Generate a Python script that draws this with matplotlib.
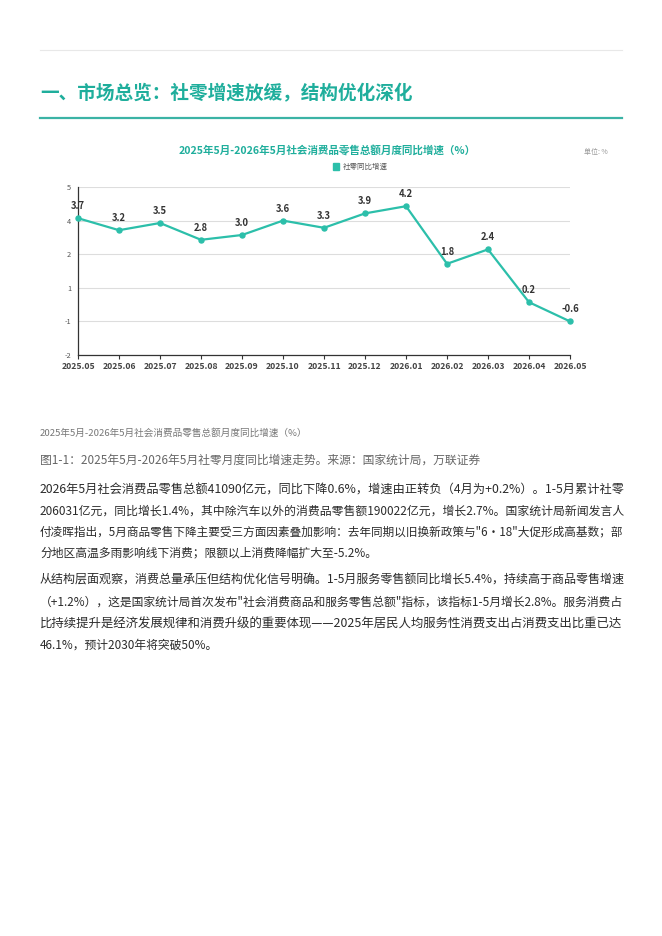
import matplotlib
matplotlib.use("Agg")
import matplotlib.pyplot as plt
from matplotlib.patches import Patch
from matplotlib.lines import Line2D
import numpy as np

plt.rcParams['font.family'] = ['Noto Sans CJK SC', 'DejaVu Sans']

# ---- data ----
months = ["2025.05", "2025.06", "2025.07", "2025.08", "2025.09", "2025.10", "2025.11",
          "2025.12", "2026.01", "2026.02", "2026.03", "2026.04", "2026.05"]
growth = [3.7, 3.2, 3.5, 2.8, 3.0, 3.6, 3.3, 3.9, 4.2, 1.8, 2.4, 0.2, -0.6]

heading = "一、市场总览：社零增速放缓，结构优化深化"
chart_title = "2025年5月-2026年5月社会消费品零售总额月度同比增速（%）"
series_name = "社零同比增速"
unit_text = "单位: %"
sub_caption = "2025年5月-2026年5月社会消费品零售总额月度同比增速（%）"
fig_caption = "图1-1：2025年5月-2026年5月社零月度同比增速走势。来源：国家统计局，万联证券"
para1 = ["2026年5月社会消费品零售总额41090亿元，同比下降0.6%，增速由正转负（4月为+0.2%）。1-5月累计社零",
         "206031亿元，同比增长1.4%，其中除汽车以外的消费品零售额190022亿元，增长2.7%。国家统计局新闻发言人",
         "付凌晖指出，5月商品零售下降主要受三方面因素叠加影响：去年同期以旧换新政策与\"6·18\"大促形成高基数；部",
         "分地区高温多雨影响线下消费；限额以上消费降幅扩大至-5.2%。"]
para2 = ["从结构层面观察，消费总量承压但结构优化信号明确。1-5月服务零售额同比增长5.4%，持续高于商品零售增速",
         "（+1.2%），这是国家统计局首次发布\"社会消费商品和服务零售总额\"指标，该指标1-5月增长2.8%。服务消费占",
         "比持续提升是经济发展规律和消费升级的重要体现——2025年居民人均服务性消费支出占消费支出比重已达",
         "46.1%，预计2030年将突破50%。"]

W, H = 662, 936
teal = "#1fae9c"
line_c = "#2cbfaa"

fig = plt.figure(figsize=(W / 100, H / 100), dpi=100)
fig.patch.set_facecolor("white")


def fx(px):
    return px / W


def fy(py):
    return 1 - py / H


# header rules and heading
fig.add_artist(Line2D([fx(40), fx(622)], [fy(50), fy(50)], color="#e8e8e8", lw=0.8))
fig.text(fx(40), fy(94), heading, fontsize=13.4, fontweight="bold", color=teal, va="center")
fig.add_artist(Line2D([fx(40), fx(622)], [fy(117.5), fy(117.5)], color="#3bb3a5", lw=1.6))

# chart
ax = fig.add_axes([fx(78), fy(355), fx(570) - fx(78), (355 - 187) / H])
x = np.arange(len(months))
ax.plot(x, growth, color=line_c, lw=1.6, marker="o", ms=3.6, zorder=3, clip_on=False)
for xi, v in zip(x, growth):
    ax.annotate(f"{v:.1f}", (xi, v), xytext=(0, 5), textcoords="offset points",
                ha="center", va="bottom", fontsize=6.8, fontweight="bold", color="#333333")
ax.set_xlim(0, len(months) - 1)
ax.set_ylim(-2, 5)
yt = np.linspace(-2, 5, 6)
ax.set_yticks(yt)
ax.set_yticklabels([f"{t:.0f}" for t in yt])
ax.set_xticks(x)
ax.set_xticklabels(months)
ax.tick_params(axis="y", length=0, labelsize=5.3, labelcolor="#555555", pad=5)
ax.tick_params(axis="x", length=3, width=0.8, color="#333333", labelsize=6.2,
               labelcolor="#444444", pad=2)
for lab in ax.get_xticklabels():
    lab.set_fontweight("bold")
ax.grid(axis="y", color="#dddddd", lw=0.8)
ax.set_axisbelow(True)
for s in ["top", "right"]:
    ax.spines[s].set_visible(False)
ax.spines["left"].set_color("#333333")
ax.spines["bottom"].set_color("#333333")
ax.spines["left"].set_linewidth(0.9)
ax.spines["bottom"].set_linewidth(0.9)

fig.text(fx(327), fy(151), chart_title, fontsize=7.6, fontweight="bold", color=teal,
         ha="center", va="center")
fig.text(fx(608), fy(152), unit_text, fontsize=5, color="#999999", ha="right", va="center")
fig.legend(handles=[Patch(facecolor=line_c, edgecolor=line_c, label=series_name)],
           loc="center", bbox_to_anchor=(fx(360), fy(167)), frameon=False,
           fontsize=5.4, labelcolor="#555555", handlelength=0.9, handleheight=0.9,
           handletextpad=0.4, borderpad=0)

# captions
fig.text(fx(40), fy(433), sub_caption, fontsize=6.9, color="#777777", va="center")
fig.text(fx(40), fy(460), fig_caption, fontsize=8.5, color="#666666", va="center",
         style="italic")

# body paragraphs, full lines stretched to the text width
renderer = fig.canvas.get_renderer()
body_size = 8.5
target_w = 622 - 40


def draw_para(lines, ys):
    for i, (s, y) in enumerate(zip(lines, ys)):
        t = fig.text(fx(40), fy(y), s, fontsize=body_size, color="#2b2b2b", va="center")
        if i < len(lines) - 1:
            w = t.get_window_extent(renderer).width
            scale = min(max(target_w / w, 0.92), 1.08)
            t.set_fontsize(body_size * scale)


draw_para(para1, [490, 511, 532, 553])
draw_para(para2, [580, 602, 624, 645])

fig.savefig("out.png", dpi=100, facecolor="white")
